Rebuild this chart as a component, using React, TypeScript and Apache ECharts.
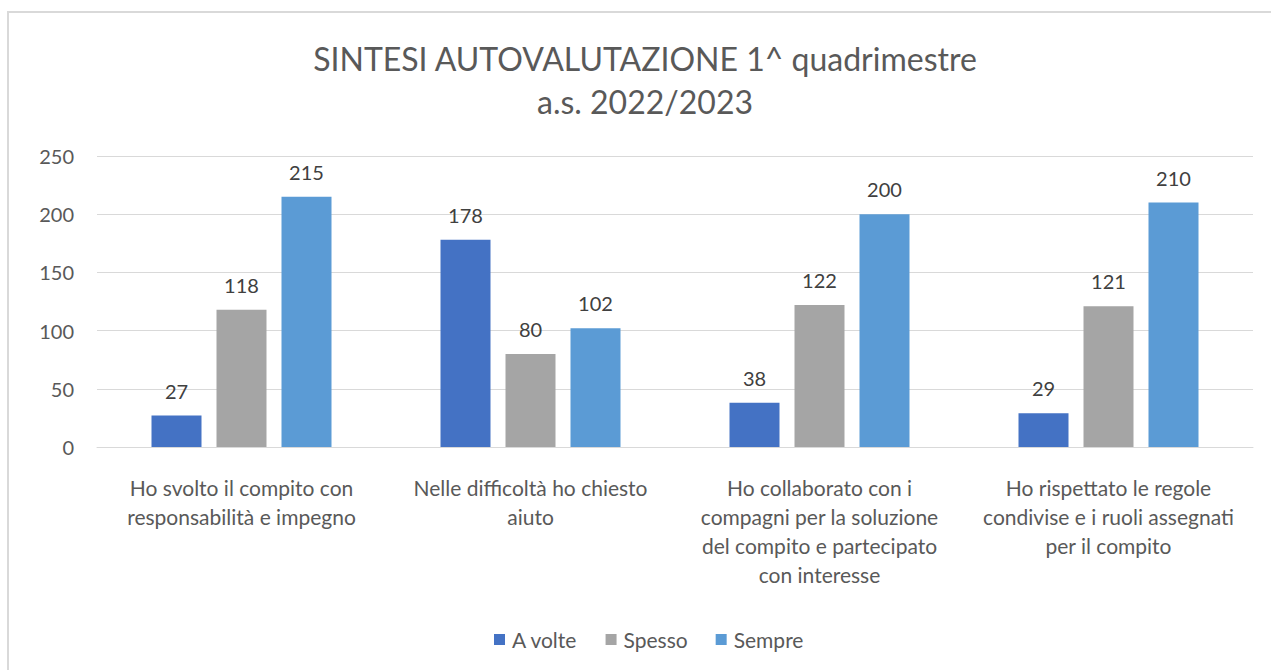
import React, { useEffect, useRef } from "react";
import * as echarts from "echarts";

const categories = [
  "Ho svolto il compito con\nresponsabilità e impegno",
  "Nelle difficoltà ho chiesto\naiuto",
  "Ho collaborato con i\ncompagni per la soluzione\ndel compito e partecipato\ncon interesse",
  "Ho rispettato le regole\ncondivise e i ruoli assegnati\nper il compito",
];
const seriesNames = ["A volte", "Spesso", "Sempre"];
const aVolte = [27, 178, 38, 29];
const spesso = [118, 80, 122, 121];
const sempre = [215, 102, 200, 210];
const colors = ["#4472C4", "#A5A5A5", "#5B9BD5"];
const titleText = "SINTESI AUTOVALUTAZIONE 1^ quadrimestre\na.s. 2022/2023";

const FONT = "Lato, 'Open Sans', sans-serif";

export default function App() {
  const ref = useRef<HTMLDivElement>(null);
  useEffect(() => {
    if (!ref.current) return;
    const chart = echarts.init(ref.current, undefined, { renderer: "svg" });
    const values = [aVolte, spesso, sempre];
    chart.setOption({
      animation: false,
      backgroundColor: "#ffffff",
      textStyle: { fontFamily: FONT },
      title: {
        text: titleText,
        left: 640,
        top: 32,
        textAlign: "center",
        textStyle: {
          fontFamily: FONT,
          fontSize: 32,
          fontWeight: "normal",
          color: "#595959",
          lineHeight: 43,
        },
      },
      legend: {
        data: seriesNames,
        left: 489,
        top: 624,
        icon: "rect",
        itemWidth: 11,
        itemHeight: 11,
        itemGap: 28,
        itemStyle: { borderWidth: 0 },
        textStyle: { fontFamily: FONT, fontSize: 21, color: "#595959", padding: [0, 0, 0, 2] },
      },
      graphic: [
        {
          type: "rect",
          shape: { x: 8, y: 12, width: 1300, height: 700 },
          style: { fill: "none", stroke: "#d9d9d9", lineWidth: 2 },
          silent: true,
        },
      ],
      grid: { left: 97, right: 18, top: 156, bottom: 223, containLabel: false },
      xAxis: {
        type: "category",
        data: categories,
        axisLine: { lineStyle: { color: "#d9d9d9" } },
        axisTick: { show: false },
        axisLabel: {
          interval: 0,
          margin: 26,
          fontFamily: FONT,
          fontSize: 21,
          lineHeight: 29,
          color: "#595959",
        },
      },
      yAxis: {
        type: "value",
        min: 0,
        max: 250,
        interval: 50,
        axisLine: { show: false },
        axisTick: { show: false },
        splitLine: { lineStyle: { color: "#d9d9d9" } },
        axisLabel: {
          margin: 23,
          fontFamily: FONT,
          fontSize: 20,
          color: "#595959",
        },
      },
      series: seriesNames.map((name, i) => ({
        name,
        type: "bar",
        data: values[i],
        barWidth: 50,
        barGap: "30%",
        itemStyle: { color: colors[i] },
        label: {
          show: true,
          position: "top",
          distance: 15,
          fontFamily: FONT,
          fontSize: 20,
          color: "#404040",
        },
      })),
    });
    return () => chart.dispose();
  }, []);
  return (
    <div
      ref={ref}
      style={{ position: "absolute", left: 0, top: 0, width: 1271, height: 670 }}
    />
  );
}
